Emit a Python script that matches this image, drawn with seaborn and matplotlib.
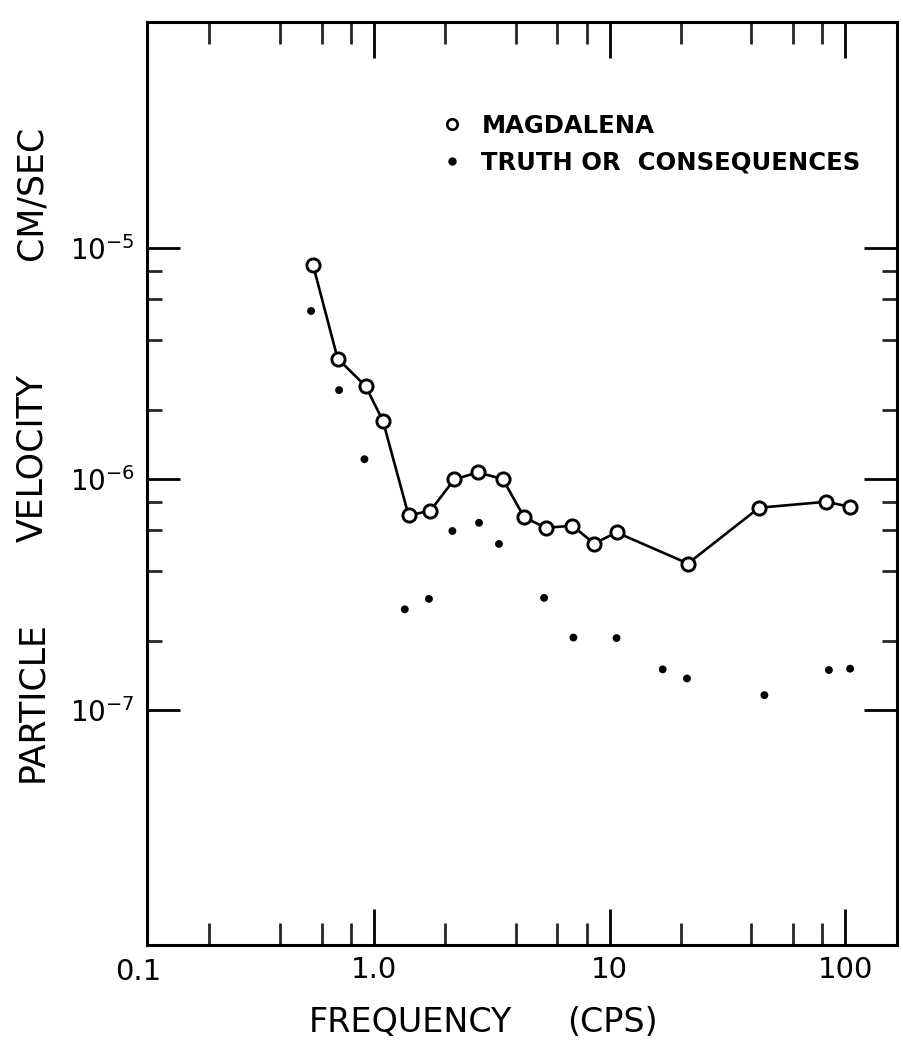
import matplotlib
matplotlib.use("Agg")
import matplotlib.pyplot as plt
from matplotlib.lines import Line2D
from matplotlib.ticker import FixedLocator, NullFormatter
from matplotlib.transforms import blended_transform_factory
import pandas as pd
import seaborn as sns

# Magdalena station: frequency (cps) and particle velocity (cm/sec)
mag_freq = [0.55, 0.70, 0.92, 1.09, 1.40, 1.73, 2.19, 2.76, 3.52, 4.34,
            5.36, 6.95, 8.6, 10.7, 21.5, 43.1, 83.0, 105.0]
mag_vel = [8.5e-6, 3.33e-6, 2.53e-6, 1.79e-6, 6.98e-7, 7.28e-7, 9.97e-7,
           1.07e-6, 1.0e-6, 6.83e-7, 6.16e-7, 6.28e-7, 5.26e-7, 5.88e-7,
           4.31e-7, 7.52e-7, 7.98e-7, 7.59e-7]

# Truth or Consequences station
toc_freq = [0.54, 0.71, 0.91, 1.35, 1.71, 2.15, 2.79, 3.39, 5.27, 7.02,
            10.7, 16.8, 21.3, 45.4, 85.3, 105.0]
toc_vel = [5.35e-6, 2.43e-6, 1.22e-6, 2.73e-7, 3.03e-7, 5.96e-7, 6.47e-7,
           5.24e-7, 3.06e-7, 2.06e-7, 2.05e-7, 1.50e-7, 1.37e-7, 1.16e-7,
           1.49e-7, 1.51e-7]

series_names = ["MAGDALENA", "TRUTH OR  CONSEQUENCES"]
x_tick_values = [1, 10, 100]
x_tick_labels = ["1.0", "10", "100"]
x_minor = [0.2, 0.4, 0.6, 0.8, 2, 4, 6, 8, 20, 40, 60, 80]
y_tick_values = [1e-7, 1e-6, 1e-5]
y_minor = [2e-7, 4e-7, 6e-7, 8e-7, 2e-6, 4e-6, 6e-6, 8e-6]

sns.set_theme(style="ticks")
plt.rcParams["font.family"] = ["DejaVu Sans"]
plt.rcParams["mathtext.fontset"] = "dejavusans"
plt.rcParams["text.color"] = "black"

W, H = 904, 1048
fig = plt.figure(figsize=(W / 100, H / 100), dpi=100)
ax = fig.add_axes([147 / W, 103 / H, 750 / W, 923 / H])
ax.set_xscale("log")
ax.set_yscale("log")

mag = pd.DataFrame({"freq": mag_freq, "vel": mag_vel})
toc = pd.DataFrame({"freq": toc_freq, "vel": toc_vel})

sns.lineplot(data=mag, x="freq", y="vel", ax=ax, color="black", lw=1.9,
             marker="o", markersize=9.5, markerfacecolor="white",
             markeredgecolor="black", markeredgewidth=2.1,
             sort=False, estimator=None, zorder=3)
sns.scatterplot(data=toc, x="freq", y="vel", ax=ax, color="black", s=32,
                edgecolor="none", zorder=3)

ax.set_xlim(0.1086, 166)
ax.set_ylim(9.6e-9, 9.55e-5)

ax.xaxis.set_major_locator(FixedLocator(x_tick_values))
ax.set_xticklabels(x_tick_labels)
ax.xaxis.set_minor_locator(FixedLocator(x_minor))
ax.xaxis.set_minor_formatter(NullFormatter())
ax.yaxis.set_major_locator(FixedLocator(y_tick_values))
ax.yaxis.set_minor_locator(FixedLocator(y_minor))
ax.yaxis.set_minor_formatter(NullFormatter())

ax.tick_params(axis="x", which="major", direction="in", length=26, width=2.0,
               top=True, bottom=True, labelsize=21, pad=8, colors="black")
ax.tick_params(axis="x", which="minor", direction="in", length=16, width=2.0,
               top=True, bottom=True)
ax.tick_params(axis="y", which="major", direction="in", length=24, width=2.0,
               left=True, right=True, labelsize=20, pad=9, colors="black")
ax.tick_params(axis="y", which="minor", direction="in", length=11, width=2.0,
               left=True, right=True)
for sp in ax.spines.values():
    sp.set_linewidth(2.2)
    sp.set_color("black")

# label for the 0.1 decade, which sits just left of the frame
trans = blended_transform_factory(ax.transData, ax.transAxes)
ax.text(0.1, -0.0145, "0.1", transform=trans, ha="center", va="top",
        fontsize=21, clip_on=False)

ax.set_xlabel("")
ax.set_ylabel("")

# axis titles
fig.text(410 / W, 1 - 1022 / H, "FREQUENCY", ha="center", va="center", fontsize=24)
fig.text(612 / W, 1 - 1022 / H, "(CPS)", ha="center", va="center", fontsize=24)
fig.text(32 / W, 1 - 702 / H, "PARTICLE", ha="center", va="center", rotation=90, fontsize=25)
fig.text(32 / W, 1 - 458 / H, "VELOCITY", ha="center", va="center", rotation=90, fontsize=25)
fig.text(32 / W, 1 - 193 / H, "CM/SEC", ha="center", va="center", rotation=90, fontsize=25)

handles = [
    Line2D([], [], ls="none", marker="o", markersize=7.5, markerfacecolor="white",
           markeredgecolor="black", markeredgewidth=1.9),
    Line2D([], [], ls="none", marker="o", markersize=5, color="black"),
]
ax.legend(handles, series_names, loc="upper left",
          bbox_to_anchor=(440 / W, 1 - 114 / H), bbox_transform=fig.transFigure,
          frameon=False, handlelength=1.0, handletextpad=0.7, labelspacing=0.5,
          borderpad=0, borderaxespad=0,
          prop={"size": 17.5, "weight": "bold"})

fig.savefig("out.png", dpi=100)
